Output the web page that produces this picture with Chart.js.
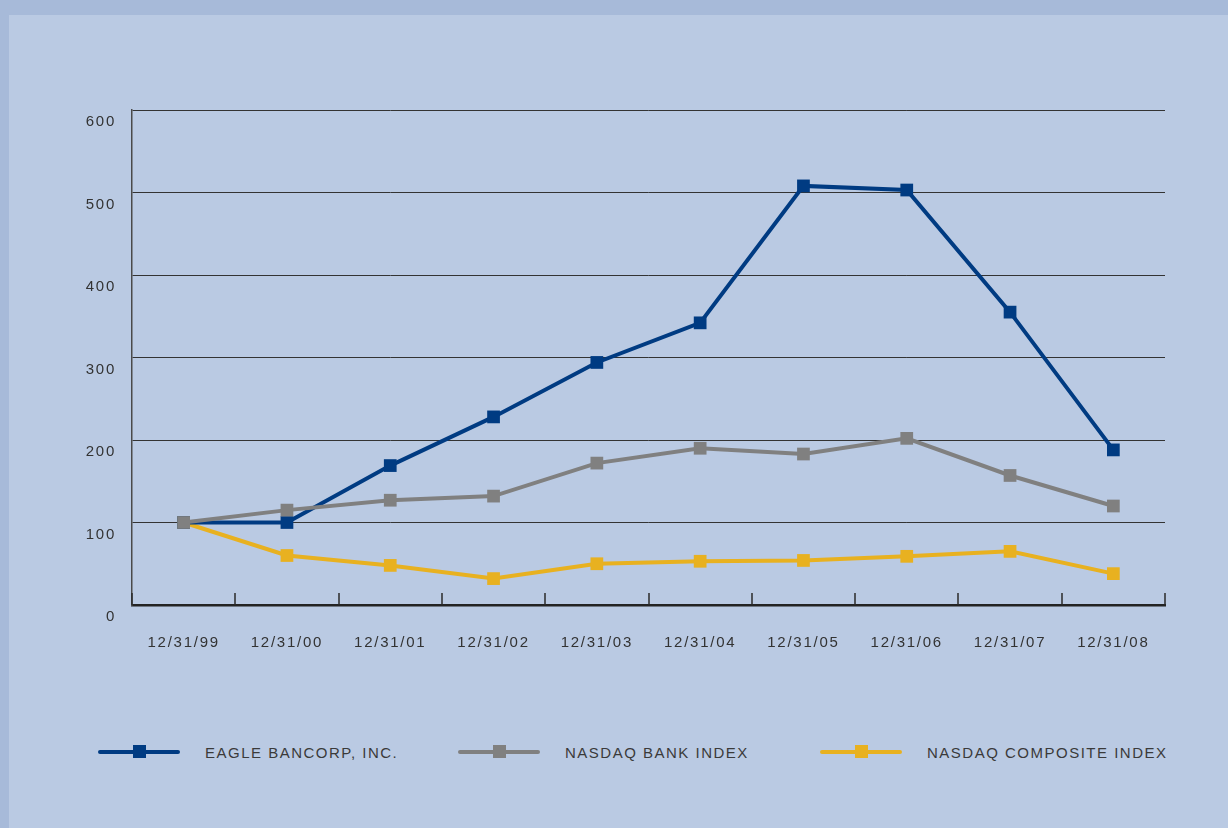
<!DOCTYPE html>
<html>
<head>
<meta charset="utf-8">
<script src="https://cdn.jsdelivr.net/npm/chart.js@4.4.0/dist/chart.umd.min.js"></script>
<style>
  html, body { margin: 0; padding: 0; }
  body { width: 1228px; height: 828px; background: #a7bad9; position: relative; overflow: hidden; font-family: "Liberation Sans", Arial, sans-serif; }
  .panel { position: absolute; left: 9px; top: 15px; right: 0; bottom: 0; background: #bacae3; }
  .chart-box { position: absolute; left: 0; top: 0; width: 1228px; height: 700px; }
  .legend-item { position: absolute; top: 740px; height: 24px; display: flex; align-items: center; }
  .legend-line { position: relative; width: 82px; height: 4px; border-radius: 2px; }
  .legend-mark { position: absolute; left: 35px; top: -5px; width: 13px; height: 13px; }
  .legend-text { margin-left: 25px; font-size: 15px; letter-spacing: 1.5px; color: #3a3a3a; }
</style>
</head>
<body>
<div class="panel"></div>
<div class="chart-box"><canvas id="Line-Chart" width="1228" height="700"></canvas></div>
<div id="legend"></div>

<script>
const labels = ["12/31/99", "12/31/00", "12/31/01", "12/31/02", "12/31/03", "12/31/04", "12/31/05", "12/31/06", "12/31/07", "12/31/08"];

const eagle = [100, 100, 169, 228, 294, 342, 508, 503, 355, 188];
const bank = [100, 115, 127, 132, 172, 190, 183, 202, 157, 120];
const composite = [100, 60, 48, 32, 50, 53, 54, 59, 65, 38];

const seriesNames = ["EAGLE BANCORP, INC.", "NASDAQ BANK INDEX", "NASDAQ COMPOSITE INDEX"];
const seriesColors = ["#003b82", "#808080", "#e8b120"];
const legendLeft = [98, 458, 820];

// Inner tick marks on the bottom axis, at category boundaries
const innerTicks = {
  id: "innerTicks",
  afterDatasetsDraw(chart) {
    const x = chart.scales.x;
    const ctx = chart.ctx;
    ctx.save();
    ctx.strokeStyle = "#2a2a2a";
    ctx.lineWidth = 1.5;
    for (let i = 0; i <= labels.length; i++) {
      const px = Math.round(x.getPixelForValue(i - 0.5));
      ctx.beginPath();
      ctx.moveTo(px, x.top);
      ctx.lineTo(px, x.top - 12);
      ctx.stroke();
    }
    ctx.restore();
  },
};

const spacing = {
  id: "spacing",
  beforeLayout(chart) { chart.ctx.letterSpacing = "1.75px"; },
  beforeDraw(chart) { chart.ctx.letterSpacing = "1.75px"; },
};

const data = {
  labels: labels,
  datasets: [
    { label: seriesNames[0], data: eagle, borderColor: seriesColors[0], backgroundColor: seriesColors[0], order: 1 },
    { label: seriesNames[1], data: bank, borderColor: seriesColors[1], backgroundColor: seriesColors[1], order: 0 },
    { label: seriesNames[2], data: composite, borderColor: seriesColors[2], backgroundColor: seriesColors[2], order: 2 },
  ],
};

const config = {
  type: "line",
  data: data,
  options: {
    responsive: false,
    animation: false,
    events: [],
    layout: { padding: { top: 110, right: 63, left: 0, bottom: 0 } },
    elements: {
      line: { borderWidth: 4, tension: 0 },
      point: { pointStyle: "rect", radius: 9, borderWidth: 0 },
    },
    plugins: { legend: { display: false }, tooltip: { enabled: false } },
    scales: {
      x: {
        offset: true,
        afterFit(scale) { scale.height = 95; },
        grid: { display: true, drawOnChartArea: false, drawTicks: false, offset: true, color: "rgba(0,0,0,0)" },
        border: { display: true, color: "#232323", width: 2.5 },
        ticks: { padding: 29, color: "#333", font: { family: "Liberation Sans", size: 15 }, maxRotation: 0 },
      },
      y: {
        min: 0,
        max: 600,
        afterFit(scale) { scale.width = 132; },
        grid: { color: "#333", lineWidth: 1, drawTicks: false },
        border: { display: true, color: "#4a4a4a", width: 1.5 },
        ticks: { stepSize: 100, padding: 16, labelOffset: 12, color: "#333", font: { family: "Liberation Sans", size: 15 } },
      },
    },
  },
  plugins: [spacing, innerTicks],
};

const myChart = new Chart(document.getElementById("Line-Chart"), config);

// Legend
const legend = document.getElementById("legend");
seriesNames.forEach((name, i) => {
  const item = document.createElement("div");
  item.className = "legend-item";
  item.style.left = legendLeft[i] + "px";
  item.innerHTML =
    '<div class="legend-line" style="background:' + seriesColors[i] + '">' +
    '<div class="legend-mark" style="background:' + seriesColors[i] + '"></div></div>' +
    '<span class="legend-text">' + name + "</span>";
  legend.appendChild(item);
});
</script>
</body>
</html>
